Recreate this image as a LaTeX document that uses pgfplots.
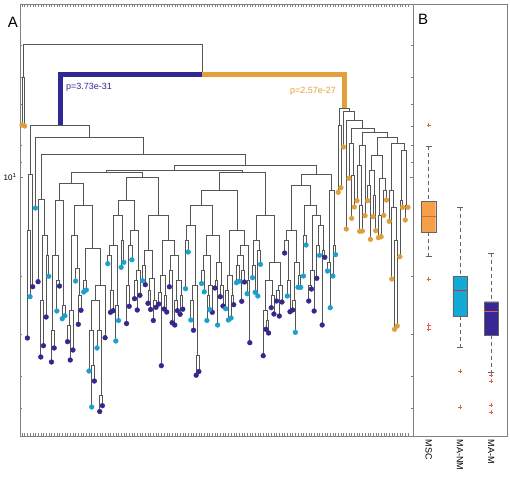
\documentclass[border=0pt]{standalone}
\usepackage{fontspec}
\setmainfont{Liberation Sans}
\usepackage{pgfplots}
\pgfplotsset{compat=1.18}
\definecolor{navyd}{RGB}{52,40,140}
\definecolor{cyand}{RGB}{28,160,205}
\definecolor{orad}{RGB}{222,160,62}
\definecolor{thickblue}{RGB}{48,40,150}
\definecolor{thickora}{RGB}{226,160,58}
\definecolor{dline}{RGB}{85,85,85}
\definecolor{mscfill}{RGB}{245,160,70}
\definecolor{nmfill}{RGB}{20,170,215}
\definecolor{mfill}{RGB}{55,40,150}
\definecolor{boxgray}{RGB}{100,100,100}
\definecolor{outred}{RGB}{228,95,75}
\begin{document}
\begin{tikzpicture}
\path[use as bounding box] (0pt,0pt) rectangle (510pt,476pt);
\begin{axis}[at={(20pt,40pt)}, anchor=south west, scale only axis,
  width=393pt, height=432pt,
  xmin=-0.75, xmax=145.9, ymin=4, ymax=436, y dir=reverse,
  xtick={0,...,144}, xticklabels={},
  ytick={177}, yticklabels={10\textsuperscript{1}},
  minor ytick={45.7,77.7,103.8,125.9,145,161.9,276.3,334.5,375.7,407.7},
  tick align=inside, major tick length=3pt, minor tick length=2pt,
  every tick/.style={gray}, axis line style={gray},
  yticklabel style={font=\fontsize{8}{8}\selectfont},
  unbounded coords=jump, clip=false]
\addplot[dline, line width=0.7pt] table {
0 125
0 77
1 77
1 126
nan nan
2 338
2 230
3 230
3 296.7
nan nan
2.5 230
2.5 174
4 174
4 286.7
nan nan
7 357
7 300
8 300
8 345.7
nan nan
9 317
9 255
10 255
10 276.3
nan nan
7.5 300
7.5 235
9.5 235
9.5 255
nan nan
6 281.7
6 199
8.5 199
8.5 235
nan nan
11 362
11 330
12 330
12 348
nan nan
13 311
13 280
14 280
14 286
nan nan
11.5 330
11.5 255
13.5 255
13.5 280
nan nan
15 318.7
15 305
16 305
16 315.7
nan nan
12.5 255
12.5 200
15.5 200
15.5 305
nan nan
17 341.7
17 325
18 325
18 360
nan nan
17.5 325
17.5 310
19 310
19 350
nan nan
21 324.3
21 295
22 295
22 310.3
nan nan
20 281
20 268
21.5 268
21.5 295
nan nan
18.25 310
18.25 235
20.75 235
20.75 268
nan nan
23 292
23 280
24 280
24 290
nan nan
26 407
26 365
27 365
27 381
nan nan
25 371
25 330
26.5 330
26.5 365
nan nan
29 411.5
29 395
30 395
30 405.7
nan nan
28 348
28 330
29.5 330
29.5 395
nan nan
25.75 330
25.75 300
28.75 300
28.75 330
nan nan
27.25 300
27.25 285
31 285
31 337.7
nan nan
23.5 280
23.5 248
29.125 248
29.125 285
nan nan
19.5 235
19.5 205
26.3125 205
26.3125 248
nan nan
14 200
14 183
22.906 183
22.906 205
nan nan
33 312.3
33 290
34 290
34 310.7
nan nan
32 263.7
32 255
33.5 255
33.5 290
nan nan
35 341
35 305
36 305
36 320.5
nan nan
32.75 255
32.75 245
35.5 245
35.5 305
nan nan
37 267.3
37 240
38 240
38 262.3
nan nan
34.125 245
34.125 215
37.5 215
37.5 240
nan nan
39 323.5
39 285
40 285
40 306.3
nan nan
39.5 285
39.5 245
41 245
41 259.7
nan nan
42 298.7
42 280
43 280
43 310
nan nan
42.5 280
42.5 270
44 270
44 295.3
nan nan
40.25 245
40.25 230
43.25 230
43.25 270
nan nan
35.8125 215
35.8125 200
41.75 200
41.75 230
nan nan
45 280.7
45 265
46 265
46 284.7
nan nan
47 303.3
47 290
48 290
48 309.5
nan nan
49 320.5
49 300
50 300
50 307.3
nan nan
47.5 290
47.5 278
49.5 278
49.5 300
nan nan
45.5 265
45.5 250
48.5 250
48.5 278
nan nan
51 304
51 292
52 292
52 365.7
nan nan
53 309
53 295
54 295
54 312
nan nan
51.5 292
51.5 275
53.5 275
53.5 295
nan nan
55 286.8
55 270
56 270
56 322.7
nan nan
57 325
57 300
58 300
58 310.7
nan nan
59 314.3
59 295
60 295
60 309.2
nan nan
57.5 300
57.5 280
59.5 280
59.5 295
nan nan
55.5 270
55.5 255
58.5 255
58.5 280
nan nan
52.5 275
52.5 240
57 240
57 255
nan nan
47 250
47 215
54.75 215
54.75 240
nan nan
38.78 200
38.78 177
50.875 177
50.875 215
nan nan
18.453 183
18.453 172.3
44.83 172.3
44.83 177
nan nan
61 288.7
61 240
62 240
62 252
nan nan
63 320
63 300
64 300
64 330.2
nan nan
65 375.2
65 355
66 355
66 371.5
nan nan
63.5 300
63.5 285
65.5 285
65.5 355
nan nan
61.5 240
61.5 225
64.5 225
64.5 285
nan nan
67 283.5
67 270
68 270
68 291.8
nan nan
69 320.5
69 295
70 295
70 309.5
nan nan
69.5 295
69.5 285
71 285
71 312.3
nan nan
67.5 270
67.5 255
70.25 255
70.25 285
nan nan
72 288
72 280
73 280
73 325
nan nan
74 296.7
74 285
75 285
75 306
nan nan
72.5 280
72.5 262
74.5 262
74.5 285
nan nan
68.875 255
68.875 235
73.5 235
73.5 262
nan nan
63 225
63 205
71.19 205
71.19 235
nan nan
76 308.7
76 290
77 290
77 320
nan nan
78 318
78 295
79 295
79 304.7
nan nan
76.5 290
76.5 275
78.5 275
78.5 295
nan nan
80 282.7
80 265
81 265
81 281.3
nan nan
82 301.3
82 270
83 270
83 282
nan nan
80.5 265
80.5 255
82.5 255
82.5 270
nan nan
84 293.7
84 280
85 280
85 342.7
nan nan
81.5 255
81.5 245
84.5 245
84.5 280
nan nan
77.5 275
77.5 230
83 230
83 245
nan nan
67.09 205
67.09 190
80.25 190
80.25 230
nan nan
86 277.7
86 265
87 265
87 292.3
nan nan
88 296
88 250
89 250
89 264.3
nan nan
86.5 265
86.5 240
88.5 240
88.5 250
nan nan
91 329.3
91 320
92 320
92 333
nan nan
90 355.7
90 310
91.5 310
91.5 320
nan nan
93 307.7
93 295
94 295
94 314
nan nan
90.75 310
90.75 280
93.5 280
93.5 295
nan nan
95 301
95 290
96 290
96 316
nan nan
95.5 290
95.5 285
97 285
97 302
nan nan
92.125 280
92.125 262
96.25 262
96.25 285
nan nan
87.5 240
87.5 215
94.19 215
94.19 262
nan nan
73.67 190
73.67 172.3
90.84 172.3
90.84 215
nan nan
31.64 172.3
31.64 170.7
82.26 170.7
82.26 172.3
nan nan
99 296
99 280
100 280
100 311.7
nan nan
98 253
98 240
99.5 240
99.5 280
nan nan
101 310
101 300
102 300
102 332.3
nan nan
103 287.3
103 275
104 275
104 287.3
nan nan
101.5 300
101.5 262
103.5 262
103.5 275
nan nan
98.75 240
98.75 230
102.5 230
102.5 262
nan nan
105 276
105 235
106 235
106 245
nan nan
107 301
107 285
108 285
108 289
nan nan
107.5 285
107.5 270
109 270
109 311
nan nan
110 278.3
110 245
111 245
111 255.3
nan nan
112 325
112 250
113 250
113 257.3
nan nan
110.5 245
110.5 225
112.5 225
112.5 250
nan nan
108.25 270
108.25 215
111.5 215
111.5 225
nan nan
105.5 235
105.5 205
109.875 205
109.875 215
nan nan
100.625 230
100.625 185
107.69 185
107.69 205
nan nan
114 271
114 262
115 262
115 307.7
nan nan
116 276
116 245
117 245
117 254.7
nan nan
114.5 262
114.5 190
116.5 190
116.5 245
nan nan
104.16 185
104.16 174
115.5 174
115.5 190
nan nan
56.95 170.7
56.95 165.5
109.83 165.5
109.83 174
nan nan
7.25 199
7.25 154
83.39 154
83.39 165.5
nan nan
5 208
5 137
45.32 137
45.32 154
nan nan
3.25 174
3.25 125
25.16 125
25.16 137
nan nan
118 192.3
118 125
119 125
119 187.7
nan nan
123 218.3
123 175
124 175
124 207
nan nan
122 178.3
122 143
123.5 143
123.5 175
nan nan
126 231.3
126 205
127 205
127 231
nan nan
125 200.7
125 165
126.5 165
126.5 205
nan nan
125.75 165
125.75 145
128 145
128 215.7
nan nan
129 200.7
129 185
130 185
130 239.3
nan nan
131 216.7
131 195
132 195
132 230.7
nan nan
129.5 185
129.5 170
131.5 170
131.5 195
nan nan
133 237.7
133 215
134 215
134 236.7
nan nan
135 215.3
135 190
136 190
136 200
nan nan
133.5 215
133.5 178
135.5 178
135.5 190
nan nan
130.5 170
130.5 155
134.5 155
134.5 178
nan nan
139 329.3
139 240
140 240
140 326
nan nan
138 279
138 207
139.5 207
139.5 240
nan nan
137 221.3
137 190
138.75 190
138.75 207
nan nan
141 256.7
141 200
142 200
142 207.3
nan nan
143 220
143 205
144 205
144 207.3
nan nan
141.5 200
141.5 150
143.5 150
143.5 205
nan nan
137.875 190
137.875 143
142.5 143
142.5 150
nan nan
132.5 155
132.5 137.7
140.19 137.7
140.19 143
nan nan
126.875 145
126.875 132
136.34 132
136.34 137.7
nan nan
122.75 143
122.75 128
131.61 128
131.61 132
nan nan
121 229
121 120
127.18 120
127.18 128
nan nan
120 147
120 111
124.09 111
124.09 120
nan nan
118.5 125
118.5 108
122.05 108
122.05 111
nan nan
0.5 77
0.5 44
67.24 44
67.24 75
};
\addplot[thickblue, line width=5pt, line join=miter] coordinates {(14.205,125) (14.205,75) (67.24,75)};
\addplot[thickora, line width=5pt, line join=miter] coordinates {(67.24,75) (120.27,75) (120.27,108)};
\addplot[only marks, mark=*, mark size=2.4pt, mark options={draw=navyd, fill=navyd}] coordinates {
(2,338)(4,286.7)(6,281.7)(7,357)(8,345.7)(9,317)(11,362)(12,348)(14,286)(17,341.7)(18,360)(19,350)(21,324.3)(22,310.3)(27,381)(29,411.5)(30,405.7)(31,337.7)(33,312.3)(34,310.7)(39,323.5)(40,306.3)(42,298.7)(43,310)(44,295.3)(46,284.7)(47,303.3)(48,309.5)(49,320.5)(50,307.3)(51,304)(52,365.7)(53,309)(54,312)(55,286.8)(56,322.7)(57,325)(58,310.7)(59,314.3)(60,309.2)(64,330.2)(65,375.2)(66,371.5)(71,312.3)(72,288)(74,296.7)(75,306)(79,304.7)(82,301.3)(83,282)(85,342.7)(90,355.7)(91,329.3)(92,333)(93,307.7)(94,314)(95,301)(96,316)(97,302)(98,253)(100,311.7)(101,310)(107,301)(108,289)(109,311)(110,278.3)(112,325)(113,257.3)};
\addplot[only marks, mark=*, mark size=2.4pt, mark options={draw=cyand, fill=cyand}] coordinates {
(3,296.7)(5,208)(10,276.3)(13,311)(15,318.7)(16,315.7)(20,281)(23,292)(24,290)(25,371)(26,407)(28,348)(32,263.7)(35,341)(36,320.5)(37,267.3)(38,262.3)(41,259.7)(45,280.7)(61,288.7)(62,252)(63,320)(67,283.5)(68,291.8)(69,320.5)(70,309.5)(73,325)(76,308.7)(77,320)(78,318)(80,282.7)(81,281.3)(84,293.7)(86,277.7)(87,292.3)(88,296)(89,264.3)(99,296)(102,332.3)(103,287.3)(104,287.3)(105,276)(106,245)(111,255.3)(114,271)(115,307.7)(116,276)(117,254.7)};
\addplot[only marks, mark=*, mark size=2.4pt, mark options={draw=orad, fill=orad}] coordinates {
(0,125)(1,126)(118,192.3)(119,187.7)(120,147)(121,229)(122,178.3)(123,218.3)(124,207)(125,200.7)(126,231.3)(127,231)(128,215.7)(129,200.7)(130,239.3)(131,216.7)(132,230.7)(133,237.7)(134,236.7)(135,215.3)(136,200)(137,221.3)(138,279)(139,329.3)(140,326)(141,256.7)(142,207.3)(143,220)(144,207.3)};
\node[anchor=west, text=thickblue, font=\fontsize{9}{9}\selectfont, inner sep=0pt] at (axis cs:16.4,87) {p=3.73e-31};
\node[anchor=east, text=thickora, font=\fontsize{9}{9}\selectfont, inner sep=0pt] at (axis cs:117.2,91) {p=2.57e-27};
\end{axis}
\begin{axis}[at={(413pt,40pt)}, anchor=south west, scale only axis,
  width=94pt, height=432pt,
  xmin=0.5, xmax=3.5, ymin=4, ymax=436, y dir=reverse,
  xtick={1,2,3}, xticklabels={MSC,MA-NM,MA-M}, ytick=\empty,
  major tick length=0pt, axis line style={gray},
  xticklabel style={rotate=-90, anchor=west, font=\fontsize{9}{9}\selectfont},
  clip=false]
% whiskers
\addplot[boxgray, dash pattern=on 4pt off 3pt] coordinates {(1,146) (1,201)};
\addplot[boxgray, dash pattern=on 4pt off 3pt] coordinates {(1,232) (1,255.7)};
\addplot[boxgray, dash pattern=on 4pt off 3pt] coordinates {(2,207.3) (2,276)};
\addplot[boxgray, dash pattern=on 4pt off 3pt] coordinates {(2,316) (2,347.3)};
\addplot[boxgray, dash pattern=on 4pt off 3pt] coordinates {(3,252.7) (3,301.7)};
\addplot[boxgray, dash pattern=on 4pt off 3pt] coordinates {(3,335) (3,371.7)};
% caps
\addplot[boxgray] coordinates {(0.905,146) (1.095,146)};
\addplot[boxgray] coordinates {(0.905,255.7) (1.095,255.7)};
\addplot[boxgray] coordinates {(1.905,207.3) (2.095,207.3)};
\addplot[boxgray] coordinates {(1.905,347.3) (2.095,347.3)};
\addplot[boxgray] coordinates {(2.905,252.7) (3.095,252.7)};
\addplot[boxgray] coordinates {(2.905,371.7) (3.095,371.7)};
% boxes
\addplot[draw=boxgray, fill=mscfill] coordinates {(0.775,201) (1.225,201) (1.225,232) (0.775,232) (0.775,201)};
\addplot[draw=boxgray, fill=nmfill] coordinates {(1.775,276) (2.225,276) (2.225,316) (1.775,316) (1.775,276)};
\addplot[draw=boxgray, fill=mfill] coordinates {(2.775,301.7) (3.225,301.7) (3.225,335) (2.775,335) (2.775,301.7)};
% medians
\addplot[outred, line width=0.5pt] coordinates {(0.775,216.7) (1.225,216.7)};
\addplot[red!60!gray, line width=0.5pt] coordinates {(1.775,290.3) (2.225,290.3)};
\addplot[outred, line width=0.5pt] coordinates {(2.775,311) (3.225,311)};
% outliers
\addplot[only marks, mark=+, mark size=2pt, outred] coordinates {(1,125) (1,279.3) (1,325) (1,329) (2,370.7) (2,407) (3,375) (3,380.7) (3,404.7) (3,411.7)};
\end{axis}
\node[font=\fontsize{15}{15}\selectfont] at (13pt,454pt) {A};
\node[font=\fontsize{15}{15}\selectfont] at (423pt,457pt) {B};
\end{tikzpicture}
\end{document}
